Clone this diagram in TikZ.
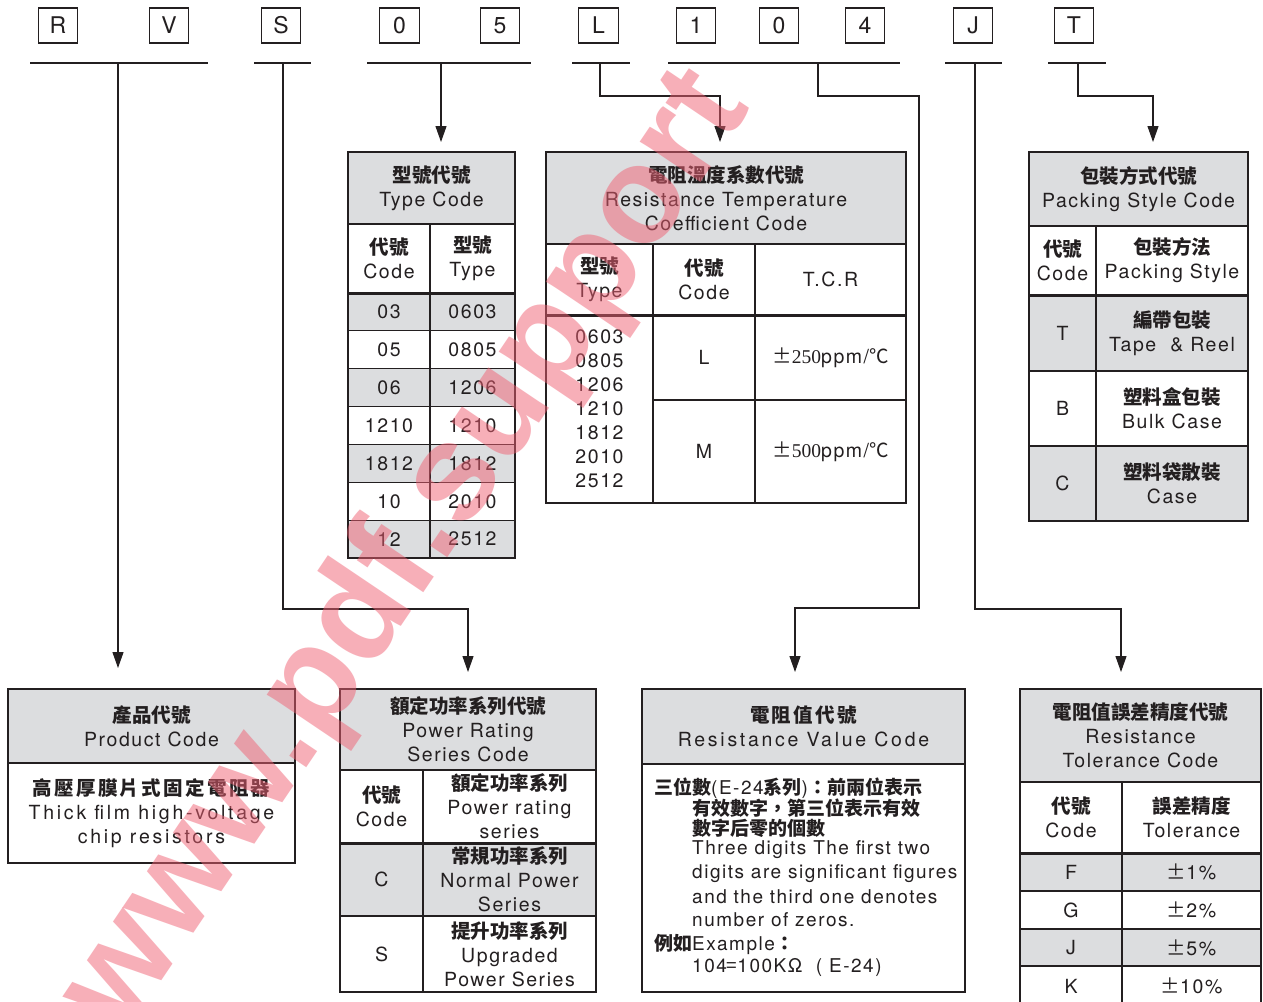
\documentclass[tikz,border=0pt]{standalone}
\usepackage{fontspec}
\setmainfont{TeX Gyre Heros}[LetterSpace=8]
\newfontfamily\cjk{Noto Sans CJK TC}
\newfontfamily\cjkwide{Noto Sans CJK TC}[LetterSpace=12]
\newfontfamily\serifnum{Liberation Serif}
\newfontfamily\widefont{TeX Gyre Heros}[LetterSpace=14]
\newfontfamily\plainsans{TeX Gyre Heros}
\newfontfamily\wmfont{Liberation Sans}
\usetikzlibrary{arrows.meta}
\definecolor{hdrgray}{RGB}{220,221,223}
\definecolor{ink}{RGB}{35,31,32}
\definecolor{wmpink}{RGB}{240,96,115}
\newcommand{\cb}[1]{{\cjk\bfseries #1}}
\newcommand{\cbw}[1]{{\cjkwide\bfseries #1}}
\newcommand{\mkcell}[7]{\node[cellst, fill=#6, minimum width={(#4)-(#2)}, minimum height={(#5)-(#3)}] (#1) at ({((#2)+(#4))/2},{((#3)+(#5))/2}) {#7};}
\begin{document}
\begin{tikzpicture}[x=1pt,y=-1pt,
  lbox/.style={draw=ink, line width=1.1pt, minimum width=39.5pt, minimum height=35pt, inner sep=0pt, font=\plainsans\fontsize{23}{24}\selectfont, text=ink},
  cellst/.style={draw=ink, line width=1.1pt, inner sep=0pt, align=center, font=\fontsize{19.5}{24}\selectfont, text=ink},
  txt/.style={inner sep=0pt, font=\fontsize{19}{23.5}\selectfont, text=ink},
  conn/.style={draw=ink, line width=1.1pt},
  arr/.style={conn, -{Triangle[length=16pt,width=11pt]}},
  sepa/.style={draw=ink, line width=1.8pt},
  sepb/.style={draw=ink, line width=2.6pt},
  frame/.style={draw=ink, line width=1.5pt},
  wm/.style={text=wmpink, text opacity=0.5, inner sep=0pt, font=\wmfont\bfseries\fontsize{138}{138}\selectfont},
]
\useasboundingbox (0,0) rectangle (1263,1001);
\clip (0,0) rectangle (1263,1001);
\fill[white] (0,0) rectangle (1263,1001);

% ---- letter boxes ----
\foreach \n/\x/\t in {bR/58/R, bV/169/V, bS/281/S, bZa/399.5/0, bF/500/5, bL/598.5/L, bOne/696/1, bZb/779/0, bFour/865/4, bJ/973/J, bT/1074/T}
  \node[lbox] (\n) at (\x,25.5) {\t};

% ---- underlines ----
\draw[conn] (30,63) -- (208,63);
\draw[conn] (254,63) -- (311,63);
\draw[conn] (367,63) -- (531,63);
\draw[conn] (572,63) -- (630,63);
\draw[conn] (668,63) -- (900,63);
\draw[conn] (945,63) -- (1002,63);
\draw[conn] (1048,63) -- (1106,63);

% ---- connector coordinates ----
\coordinate (uRV) at (118,63);   \coordinate (tRV) at (118,668);
\coordinate (uS) at (283,63);    \coordinate (kS) at (468,609);   \coordinate (tS) at (468,672);
\coordinate (u05) at (441,63);   \coordinate (t05) at (441,142);
\coordinate (uL) at (600,63);    \coordinate (kL) at (720,96);    \coordinate (tL) at (720,142);
\coordinate (u104) at (818,63);  \coordinate (k104a) at (919,96); \coordinate (k104b) at (919,608); \coordinate (t104) at (795,672);
\coordinate (uJ) at (975,63);    \coordinate (kJ) at (1121,609);  \coordinate (tJ) at (1121,672);
\coordinate (uT) at (1078,63);   \coordinate (kT) at (1153,96);   \coordinate (tT) at (1153,142);

\draw[arr] (uRV) -- (tRV);
\draw[arr] (uS) |- (kS) -- (tS);
\draw[arr] (u05) -- (t05);
\draw[arr] (uL) |- (kL) -- (tL);
\draw[arr] (u104) |- (k104a) -- (k104b) -| (t104);
\draw[arr] (uJ) |- (kJ) -- (tJ);
\draw[arr] (uT) |- (kT) -- (tT);

% ---- Type code table ----
\mkcell{tyH}{348}{152}{515}{224}{hdrgray}{\cb{型號代號}\\Type Code}
\mkcell{tySa}{348}{224}{430}{293}{white}{\cb{代號}\\Code}
\mkcell{tySb}{430}{224}{515}{293}{white}{\cb{型號}\\Type}
\foreach \i/\a/\b/\f in {0/03/0603/hdrgray, 1/05/0805/white, 2/06/1206/hdrgray, 3/1210/1210/white, 4/1812/1812/hdrgray, 5/10/2010/white, 6/12/2512/hdrgray}{
  \mkcell{ty\i a}{348}{293+37.86*\i}{430}{293+37.86*(\i+1)}{\f}{\a}
  \mkcell{ty\i b}{430}{293+37.86*\i}{515}{293+37.86*(\i+1)}{\f}{\b}
}
\draw[sepa] (tyH.south west) -- (tyH.south east);
\draw[sepb] (tySa.south west) -- (tySb.south east);
\draw[frame] (348,152) rectangle (515,558);

% ---- TCR table ----
\mkcell{tcH}{546}{152}{906}{244}{hdrgray}{\cb{電阻溫度系數代號}\\Resistance Temperature\\Coefficient Code}
\mkcell{tcSa}{546}{244}{653}{315}{white}{\cb{型號}\\Type}
\mkcell{tcSb}{653}{244}{755}{315}{white}{\cb{代號}\\Code}
\mkcell{tcSc}{755}{244}{906}{315}{white}{T.C.R}
\mkcell{tcT}{546}{315}{653}{503}{white}{\fontsize{19.5}{23.3}\selectfont 0603\\0805\\1206\\1210\\1812\\2010\\2512}
\mkcell{tcLa}{653}{315}{755}{400}{white}{L}
\mkcell{tcLb}{755}{315}{906}{400}{white}{{\cjk ±}{\serifnum 250}ppm/{\cjk ℃}}
\mkcell{tcMa}{653}{400}{755}{503}{white}{M}
\mkcell{tcMb}{755}{400}{906}{503}{white}{{\cjk ±}{\serifnum 500}ppm/{\cjk ℃}}
\draw[sepa] (tcH.south west) -- (tcH.south east);
\draw[sepb] (tcSa.south west) -- (tcSc.south east);
\draw[frame] (546,152) rectangle (906,503);

% ---- Packing table ----
\mkcell{pkH}{1029}{152}{1248}{226}{hdrgray}{\cb{包裝方式代號}\\Packing Style Code}
\mkcell{pkSa}{1029}{226}{1096}{295}{white}{\cb{代號}\\Code}
\mkcell{pkSb}{1096}{226}{1248}{295}{white}{\cb{包裝方法}\\Packing Style}
\mkcell{pkTa}{1029}{295}{1096}{371}{hdrgray}{T}
\mkcell{pkTb}{1096}{295}{1248}{371}{hdrgray}{\cb{編帶包裝}\\Tape~~\& Reel}
\mkcell{pkBa}{1029}{371}{1096}{446}{white}{B}
\mkcell{pkBb}{1096}{371}{1248}{446}{white}{\cb{塑料盒包裝}\\Bulk Case}
\mkcell{pkCa}{1029}{446}{1096}{521}{hdrgray}{C}
\mkcell{pkCb}{1096}{446}{1248}{521}{hdrgray}{\cb{塑料袋散裝}\\Case}
\draw[sepa] (pkH.south west) -- (pkH.south east);
\draw[sepb] (pkSa.south west) -- (pkSb.south east);
\draw[frame] (1029,152) rectangle (1248,521);

% ---- Product code ----
\mkcell{prH}{8}{689}{295}{763}{hdrgray}{\cb{產品代號}\\Product Code}
\mkcell{prB}{8}{763}{295}{863}{white}{\cbw{高壓厚膜片式固定電阻器}\\{\widefont Thick film high-voltage}\\{\widefont chip resistors}}
\draw[sepa] (prH.south west) -- (prH.south east);
\draw[frame] (8,689) rectangle (295,863);

% ---- Power rating ----
\mkcell{pwH}{340}{689}{596}{770}{hdrgray}{\cb{額定功率系列代號}\\Power Rating\\Series Code}
\mkcell{pwSa}{340}{770}{423}{843}{white}{\cb{代號}\\Code}
\mkcell{pwSb}{423}{770}{596}{843}{white}{\cb{額定功率系列}\\Power rating\\series}
\mkcell{pwCa}{340}{843}{423}{916}{hdrgray}{C}
\mkcell{pwCb}{423}{843}{596}{916}{hdrgray}{\cb{常規功率系列}\\Normal Power\\Series}
\mkcell{pwUa}{340}{916}{423}{992}{white}{S}
\mkcell{pwUb}{423}{916}{596}{992}{white}{\cb{提升功率系列}\\Upgraded\\Power Series}
\draw[sepa] (pwH.south west) -- (pwH.south east);
\draw[sepb] (pwSa.south west) -- (pwSb.south east);
\draw[sepa] (pwCa.south west) -- (pwCb.south east);
\draw[frame] (340,689) rectangle (596,992);

% ---- Resistance value ----
\mkcell{rvH}{642}{689}{965}{764}{hdrgray}{\cbw{電阻值代號}\\{\widefont Resistance Value Code}}
\mkcell{rvB}{642}{764}{965}{992}{white}{}
\draw[sepa] (rvH.south west) -- (rvH.south east);
\draw[frame] (642,689) rectangle (965,992);
\node[txt, anchor=west] (rv1) at (654,788) {\cb{三位數}(E-24\cb{系列})\cb{：前兩位表示}};
\node[txt, anchor=west] (rv2) at (692,808) {\cb{有效數字，第三位表示有效}};
\node[txt, anchor=west] (rv3) at (692,828) {\cb{數字后零的個數}};
\node[txt, anchor=west] (rv4) at (692,850) {Three digits The first two};
\node[txt, anchor=west] (rv5) at (692,874) {digits are significant figures};
\node[txt, anchor=west] (rv6) at (692,897) {and the third one denotes};
\node[txt, anchor=west] (rv7) at (692,920) {number of zeros.};
\node[txt, anchor=west] (rv8) at (654,944) {\cb{例如}Example\cb{：}};
\node[txt, anchor=west] (rv9) at (692,967) {104{\cjk =}100KΩ~~( E-24)};

% ---- Tolerance ----
\mkcell{tlH}{1020}{689}{1261}{782}{hdrgray}{\cb{電阻值誤差精度代號}\\Resistance\\Tolerance Code}
\mkcell{tlSa}{1020}{782}{1122}{853}{white}{\cb{代號}\\Code}
\mkcell{tlSb}{1122}{782}{1261}{853}{white}{\cb{誤差精度}\\Tolerance}
\mkcell{tlFa}{1020}{853}{1122}{891}{hdrgray}{F}
\mkcell{tlFb}{1122}{853}{1261}{891}{hdrgray}{{\cjk ±}1\%}
\mkcell{tlGa}{1020}{891}{1122}{929}{white}{G}
\mkcell{tlGb}{1122}{891}{1261}{929}{white}{{\cjk ±}2\%}
\mkcell{tlJa}{1020}{929}{1122}{966}{hdrgray}{J}
\mkcell{tlJb}{1122}{929}{1261}{966}{hdrgray}{{\cjk ±}5\%}
\mkcell{tlKa}{1020}{966}{1122}{1006}{white}{K}
\mkcell{tlKb}{1122}{966}{1261}{1006}{white}{{\cjk ±}10\%}
\draw[sepa] (tlH.south west) -- (tlH.south east);
\draw[sepb] (tlSa.south west) -- (tlSb.south east);
\draw[frame] (1020,1006) -- (1020,689) -- (1261,689) -- (1261,1006);

% ---- watermark ----
\node[wm, rotate=56] (wmark) at (408,553) {www.pdf.support};
\end{tikzpicture}
\end{document}
